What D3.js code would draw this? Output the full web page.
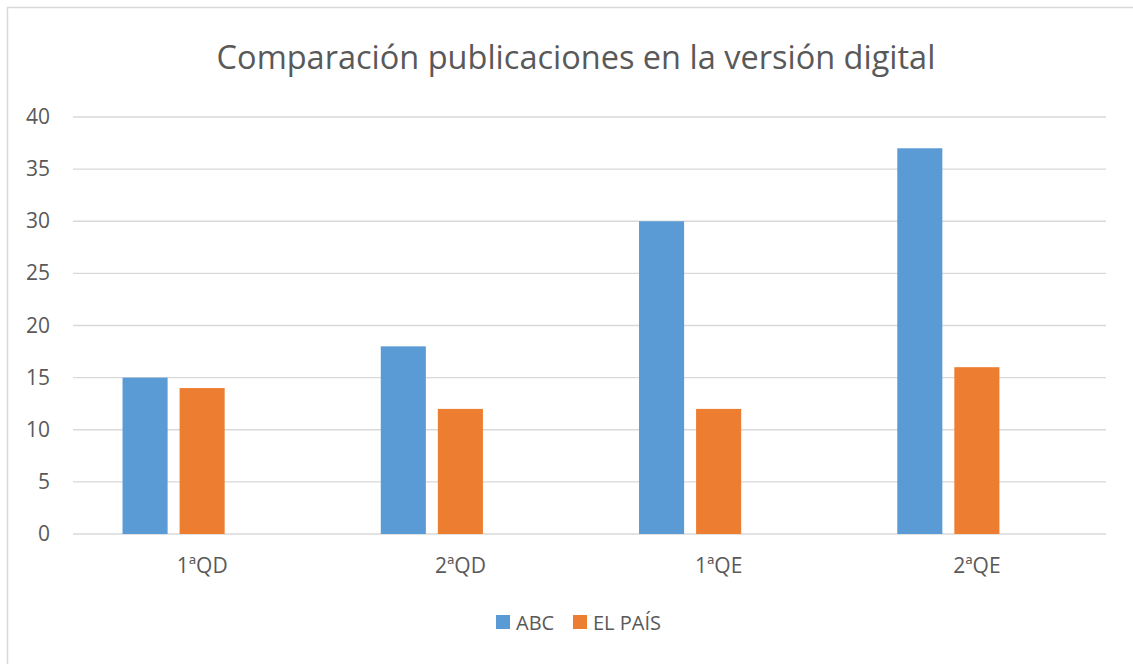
<!DOCTYPE html>
<html>
<head>
<meta charset="utf-8">
<script src="https://cdn.jsdelivr.net/npm/d3@7"></script>
<style>
  body { margin: 0; background: #fff; }
  svg text { font-family: "Open Sans", "Noto Sans", sans-serif; fill: #595959; }
</style>
</head>
<body>
<svg id="chart" width="1133" height="664"></svg>
<script>
/* Chart data */
const categories = ["1ªQD", "2ªQD", "1ªQE", "2ªQE"];
// Excel chart has a third, empty series slot which shifts the bars left in each group
const seriesNames = ["ABC", "EL PAÍS", ""];
const abcValues = [15, 18, 30, 37];
const elPaisValues = [14, 12, 12, 16];
const yTicks = [0, 5, 10, 15, 20, 25, 30, 35, 40];
const colors = ["#5B9BD5", "#ED7D31", "none"];

const svg = d3.select("svg#chart");

// Outer chart border
svg.append("rect")
  .attr("x", 7.5)
  .attr("y", 7.5)
  .attr("width", 1200)
  .attr("height", 700)
  .attr("fill", "none")
  .attr("stroke", "#d9d9d9")
  .attr("stroke-width", 1.5);

// Title
svg.append("text")
  .attr("x", 576)
  .attr("y", 69)
  .attr("text-anchor", "middle")
  .style("font-size", "32.5px")
  .text("Comparación publicaciones en la versión digital");

const plot = { left: 73, right: 1106, top: 117, bottom: 534 };

const x = d3.scaleBand()
  .domain(categories)
  .range([plot.left, plot.right]);

const y = d3.scaleLinear()
  .domain([0, 40])
  .range([plot.bottom, plot.top]);

// Bars within a group: 3 slots, bar 45px wide with 12px gaps
const xInner = d3.scaleBand()
  .domain(seriesNames)
  .range([0, x.bandwidth()])
  .paddingInner(0.21)
  .paddingOuter(0.868);

// Gridlines
svg.append("g")
  .selectAll("line")
  .data(yTicks)
  .join("line")
  .attr("x1", plot.left)
  .attr("x2", plot.right)
  .attr("y1", d => y(d))
  .attr("y2", d => y(d))
  .attr("stroke", "#d9d9d9")
  .attr("stroke-width", 1.3);

// Y tick labels
svg.append("g")
  .selectAll("text")
  .data(yTicks)
  .join("text")
  .attr("x", 50)
  .attr("y", d => y(d) + 7)
  .attr("text-anchor", "end")
  .style("font-size", "21px")
  .text(d => d);

// Bars
const series = [abcValues, elPaisValues];
series.forEach((values, si) => {
  svg.append("g")
    .selectAll("rect")
    .data(values)
    .join("rect")
    .attr("x", (d, i) => x(categories[i]) + xInner(seriesNames[si]))
    .attr("y", d => y(d))
    .attr("width", xInner.bandwidth())
    .attr("height", d => y(0) - y(d))
    .attr("fill", colors[si]);
});

// Category labels
svg.append("g")
  .selectAll("text")
  .data(categories)
  .join("text")
  .attr("x", d => x(d) + x.bandwidth() / 2)
  .attr("y", 573)
  .attr("text-anchor", "middle")
  .style("font-size", "21px")
  .text(d => d);

// Legend
const legendItems = [
  { name: seriesNames[0], color: colors[0], x: 496 },
  { name: seriesNames[1], color: colors[1], x: 573 }
];
const legend = svg.append("g")
  .selectAll("g")
  .data(legendItems)
  .join("g")
  .attr("transform", d => `translate(${d.x},615)`);

legend.append("rect")
  .attr("width", 14)
  .attr("height", 14)
  .attr("fill", d => d.color);

legend.append("text")
  .attr("x", 20)
  .attr("y", 15)
  .style("font-size", "20px")
  .text(d => d.name);
</script>
</body>
</html>
